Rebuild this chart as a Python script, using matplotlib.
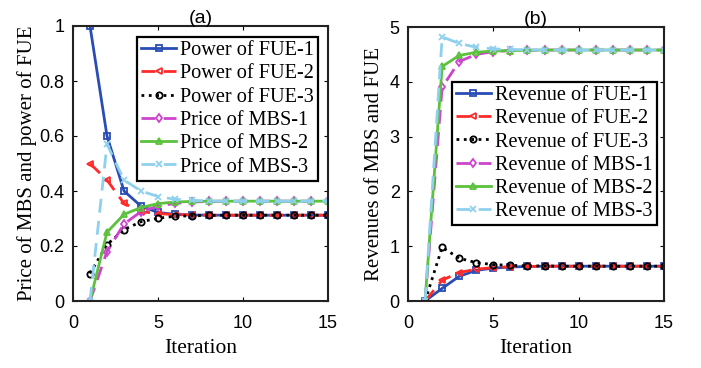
import matplotlib.pyplot as plt

iters = list(range(1, 16))

# (a) power of FUE and price of MBS
power_fue1 = [1.0, 0.60, 0.40, 0.345, 0.322, 0.315, 0.313, 0.312, 0.312, 0.312, 0.312, 0.312, 0.312, 0.312, 0.312]
power_fue2 = [0.50, 0.44, 0.355, 0.325, 0.318, 0.314, 0.313, 0.312, 0.312, 0.312, 0.312, 0.312, 0.312, 0.312, 0.312]
power_fue3 = [0.10, 0.205, 0.26, 0.288, 0.301, 0.308, 0.310, 0.311, 0.312, 0.312, 0.312, 0.312, 0.312, 0.312, 0.312]
price_mbs1 = [0.0, 0.18, 0.28, 0.325, 0.345, 0.355, 0.360, 0.362, 0.363, 0.363, 0.363, 0.363, 0.363, 0.363, 0.363]
price_mbs2 = [0.0, 0.25, 0.315, 0.34, 0.354, 0.360, 0.362, 0.363, 0.363, 0.363, 0.363, 0.363, 0.363, 0.363, 0.363]
price_mbs3 = [0.0, 0.57, 0.44, 0.40, 0.38, 0.37, 0.366, 0.364, 0.363, 0.363, 0.363, 0.363, 0.363, 0.363, 0.363]

# (b) revenues
rev_fue1 = [0.0, 0.23, 0.45, 0.56, 0.60, 0.62, 0.63, 0.635, 0.635, 0.635, 0.635, 0.635, 0.635, 0.635, 0.635]
rev_fue2 = [0.0, 0.38, 0.52, 0.58, 0.61, 0.625, 0.63, 0.635, 0.635, 0.635, 0.635, 0.635, 0.635, 0.635, 0.635]
rev_fue3 = [0.0, 0.98, 0.78, 0.70, 0.665, 0.65, 0.642, 0.638, 0.636, 0.635, 0.635, 0.635, 0.635, 0.635, 0.635]
rev_mbs1 = [0.0, 3.90, 4.37, 4.50, 4.55, 4.57, 4.575, 4.58, 4.58, 4.58, 4.58, 4.58, 4.58, 4.58, 4.58]
rev_mbs2 = [0.0, 4.28, 4.48, 4.54, 4.56, 4.57, 4.575, 4.58, 4.58, 4.58, 4.58, 4.58, 4.58, 4.58, 4.58]
rev_mbs3 = [0.0, 4.82, 4.70, 4.63, 4.60, 4.59, 4.585, 4.58, 4.58, 4.58, 4.58, 4.58, 4.58, 4.58, 4.58]

labels_a = ["Power of FUE-1", "Power of FUE-2", "Power of FUE-3",
            "Price of MBS-1", "Price of MBS-2", "Price of MBS-3"]
labels_b = ["Revenue of FUE-1", "Revenue of FUE-2", "Revenue of FUE-3",
            "Revenue of MBS-1", "Revenue of MBS-2", "Revenue of MBS-3"]

# line styles: color, linestyle, marker
styles = [
    ("#2a4db5", "-", "s"),
    ("#ff2a2a", (0, (5, 3)), "<"),
    ("black", ":", "o"),
    ("#cc44cc", (0, (5, 3)), "d"),
    ("#5cc13c", "-", "^"),
    ("#8fd0ee", (0, (5, 3)), "x"),
]

serif = "Liberation Serif"
sans = "Liberation Sans"

fig = plt.figure(figsize=(7.01, 3.68), dpi=100)
ax1 = fig.add_axes([73 / 701, 1 - 301 / 368, 255 / 701, 275 / 368])
ax2 = fig.add_axes([408 / 701, 1 - 301 / 368, 256 / 701, 274 / 368])


def draw(ax, series, labels):
	for ys, lab, (c, ls, m) in zip(series, labels, styles):
		ax.plot(iters, ys, color=c, linestyle=ls, marker=m, markersize=4.5,
		        markerfacecolor="none", markeredgewidth=1.3, linewidth=2.0, label=lab)
	ax.set_xlim(0, 15)
	ax.set_xticks([0, 5, 10, 15])
	ax.tick_params(direction="in", top=True, right=True, labelsize=13, length=3)
	ax.tick_params(axis="x", pad=10)
	ax.tick_params(axis="y", pad=6)
	for t in ax.get_xticklabels() + ax.get_yticklabels():
		t.set_fontfamily(sans)
	for s in ax.spines.values():
		s.set_linewidth(1.5)
		s.set_color("#222222")
	ax.set_xlabel("Iteration", fontsize=15.5, fontfamily=serif, labelpad=5)


def legend(ax, anchor):
	leg = ax.legend(loc="upper left", bbox_to_anchor=anchor, prop={"family": serif, "size": 14.6},
	                frameon=True, fancybox=False, edgecolor="black", handlelength=1.75,
	                handletextpad=0.2, labelspacing=0.2, borderpad=0.2, borderaxespad=0)
	leg.get_frame().set_linewidth(1.6)
	leg.get_frame().set_alpha(1)


draw(ax1, [power_fue1, power_fue2, power_fue3, price_mbs1, price_mbs2, price_mbs3], labels_a)
ax1.set_ylim(0, 1)
ax1.set_yticks([0, 0.2, 0.4, 0.6, 0.8, 1])
ax1.set_yticklabels(["0", "0.2", "0.4", "0.6", "0.8", "1"])
ax1.set_ylabel("Price of MBS and power of FUE", fontsize=15, fontfamily=serif, labelpad=2)
ax1.set_title("(a)", fontsize=14, fontfamily=sans, pad=2)
legend(ax1, (0.25, 0.96))

draw(ax2, [rev_fue1, rev_fue2, rev_fue3, rev_mbs1, rev_mbs2, rev_mbs3], labels_b)
ax2.set_ylim(0, 5)
ax2.set_yticks([0, 1, 2, 3, 4, 5])
ax2.set_ylabel("Revenues of MBS and FUE", fontsize=15, fontfamily=serif, labelpad=4)
ax2.set_title("(b)", fontsize=14, fontfamily=sans, pad=2)
legend(ax2, (0.17, 0.80))

fig.savefig("out.png", dpi=100)
